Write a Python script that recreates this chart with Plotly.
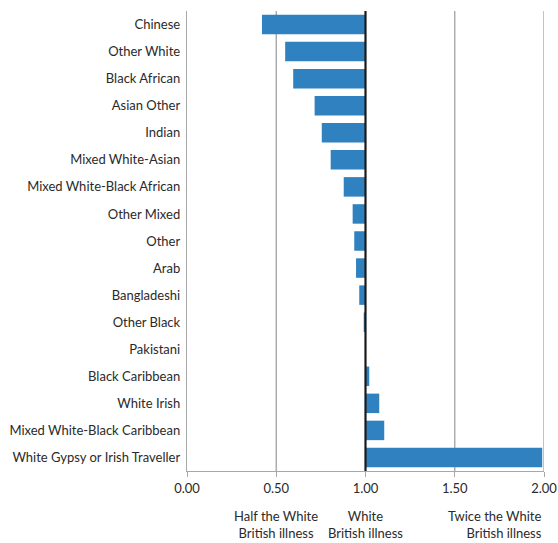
import plotly.graph_objects as go

categories = ["Chinese", "Other White", "Black African", "Asian Other", "Indian",
              "Mixed White-Asian", "Mixed White-Black African", "Other Mixed", "Other",
              "Arab", "Bangladeshi", "Other Black", "Pakistani", "Black Caribbean",
              "White Irish", "Mixed White-Black Caribbean", "White Gypsy or Irish Traveller"]
values = [0.42, 0.55, 0.595, 0.715, 0.755, 0.805, 0.878, 0.928, 0.937,
          0.947, 0.965, 0.99, 0.998, 1.021, 1.077, 1.105, 1.99]
baseline = 1.0
tick_vals = [0.0, 0.5, 1.0, 1.5, 2.0]
tick_text = ["0.00", "0.50", "1.00", "1.50", "2.00"]
ref_notes = [(0.5, "Half the White<br>British illness", "center"),
             (1.0, "White<br>British illness", "center"),
             (2.0, "Twice the White<br>British illness", "right")]

FONT = "Lato, 'Open Sans', sans-serif"
TXT = "#2a2a2a"
fig = go.Figure()
fig.add_trace(go.Bar(
    y=categories,
    x=[v - baseline for v in values],
    base=baseline,
    orientation="h",
    width=0.72,
    marker=dict(color="#2F81BF", line=dict(width=0)),
    hoverinfo="skip",
))

for tv in tick_vals[1:]:
    fig.add_shape(type="line", xref="x", yref="paper", x0=tv, x1=tv, y0=0, y1=1,
                  line=dict(color="#1a1a1a" if tv == baseline else "#A8A8A8",
                            width=2.2 if tv == baseline else 1.4),
                  layer="above" if tv == baseline else "below")

for xv, txt, al in ref_notes:
    fig.add_annotation(x=xv, y=0, xref="x", yref="paper", yshift=-35,
                       text=txt, showarrow=False, xanchor=al, yanchor="top",
                       align=al, font=dict(family=FONT, size=13, color=TXT))

fig.update_layout(
    width=558, height=543,
    margin=dict(l=187, r=14, t=11, b=72, autoexpand=False),
    plot_bgcolor="white", paper_bgcolor="white",
    showlegend=False,
    font=dict(family=FONT, size=13, color=TXT),
)
fig.update_xaxes(range=[0, 2.0], tickvals=tick_vals, ticktext=tick_text,
                 showgrid=False, zeroline=False, showline=True, automargin=False,
                 linecolor="#A8A8A8", linewidth=1.4, ticks="outside",
                 tickcolor="#A8A8A8", ticklen=5, tickwidth=1.4)
fig.update_yaxes(categoryorder="array", categoryarray=categories,
                 autorange="reversed", range=[16.5, -0.5], automargin=False,
                 showgrid=False, zeroline=False, showline=True,
                 linecolor="#A8A8A8", linewidth=1.4, ticks="", ticklabelstandoff=3)

fig.write_html("out.html", config={"displayModeBar": False},
               post_script="document.body.style.margin='0';")
